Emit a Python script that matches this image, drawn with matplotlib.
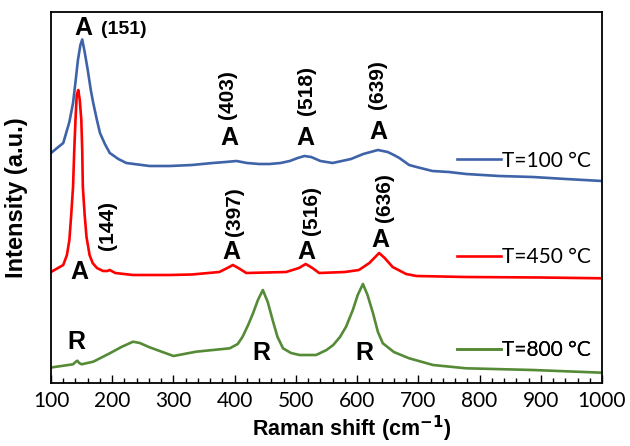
import matplotlib
matplotlib.use('Agg')
import matplotlib.pyplot as plt
from matplotlib.ticker import MultipleLocator

# Raman spectra (shift in cm-1, intensity in a.u.)
shift_100 = [100, 120, 130, 136, 140, 144, 148, 151, 155, 160, 165, 169, 175, 180, 188, 196, 210, 223,
             261, 294, 330, 364, 385, 403, 420, 440, 457, 475, 490, 503, 514, 525, 540, 560, 575, 590,
             610, 622, 634, 642, 650, 660, 669, 685, 697, 723, 750, 778, 832, 887, 941, 1000]
int_100 = [247, 257, 278, 297, 318, 340, 355, 360.5, 348, 330, 310, 297, 280, 267, 256, 247, 241, 237,
           234, 234, 235, 237, 238, 239, 237, 236, 236, 237, 239, 242, 244, 243, 239, 237, 239, 241,
           246, 248, 250, 249, 248, 245, 242, 235, 233, 229, 228, 226, 224, 223, 221, 219]

shift_450 = [100, 120, 126, 130, 133, 136, 138, 140, 142, 144.5, 147, 149.5, 151, 152, 155, 158, 163,
             168, 175, 185, 192, 196, 205, 234, 294, 330, 375, 388, 397, 406, 419, 484, 505, 516,
             527, 538, 580, 603, 620, 628, 636, 645, 658, 680, 697, 778, 900, 1000]
int_450 = [128, 135, 145, 160, 185, 213, 250, 280, 305, 310, 300, 280, 250, 213, 185, 163, 145,
           137, 132, 129, 129, 130, 127, 125, 125, 125.5, 128, 132, 135, 132, 127, 128, 132, 136,
           132, 127, 128, 130, 137, 142, 147, 142, 133, 126, 124, 123, 122.5, 121.7]

shift_800 = [100, 136, 140, 143, 146, 150, 169, 196, 215, 234, 245, 261, 300, 337, 392, 405, 413, 422,
             430, 438, 446, 454, 462, 470, 479, 492, 506, 533, 550, 561, 572, 582, 593, 601, 609.5,
             617, 626, 634, 642, 660, 685, 724, 778, 887, 1000]
int_800 = [32.5, 35.7, 38, 39.3, 37, 35.7, 38.3, 46.7, 53, 58.3, 57, 52.7, 44, 48.3, 51.7, 56, 63.3, 75,
           86.7, 100, 110, 98, 80, 63, 51.7, 47, 45, 45, 50, 55, 63, 73.3, 90, 105, 116,
           105, 86.7, 68, 56.7, 48, 41.7, 35, 31.7, 30, 27.3]

series_labels = ['T=100 °C', 'T=450 °C', 'T=800 °C']
series_colors = ['#3E63A8', '#FF0000', '#558A36']

# peak labels: (text, shift, intensity, rotation, fontsize)
peak_labels = [
    ('A', 153, 372.5, 0, 18), ('(151)', 219, 370.5, 0, 14),
    ('A', 391.5, 262.5, 0, 18), ('(403)', 388, 305, 90, 15),
    ('A', 515, 262.5, 0, 18), ('(518)', 517.5, 310, 90, 15),
    ('A', 634, 268.3, 0, 18), ('(639)', 633, 315, 90, 15),
    ('A', 145.7, 128.3, 0, 18), ('(144)', 192.5, 175, 90, 15),
    ('A', 394, 148.3, 0, 18), ('(397)', 399.7, 188.3, 90, 15),
    ('A', 516.6, 148.3, 0, 18), ('(516)', 524.8, 190, 90, 15),
    ('A', 637.4, 160, 0, 18), ('(636)', 644.4, 202, 90, 15),
    ('R', 141.4, 58.3, 0, 18), ('R', 443.2, 46.7, 0, 18),
    ('R', 611.7, 46.7, 0, 18),
]

fig = plt.figure(figsize=(6.3, 4.46), dpi=100)
ax = fig.add_axes([51 / 630, 1 - 383 / 446, 551 / 630, 371 / 446])

lines = []
for xs, ys, lab, col in zip([shift_100, shift_450, shift_800], [int_100, int_450, int_800],
                            series_labels, series_colors):
    ln, = ax.plot(xs, ys, color=col, lw=1.9, label=lab)
    lines.append(ln)

for txt, x, y, rot, fs in peak_labels:
    ax.text(x, y, txt, rotation=rot, fontsize=fs, fontweight='bold', family='Liberation Sans',
            ha='center', va='center')

ax.set_xlim(100, 1000)
ax.set_ylim(17, 388)
ax.xaxis.set_major_locator(MultipleLocator(100))
ax.xaxis.set_minor_locator(MultipleLocator(20))
ax.tick_params(axis='x', which='major', direction='in', length=6, width=1, labelsize=15, pad=6)
ax.tick_params(axis='x', which='minor', direction='in', length=3.5, width=1)
ax.tick_params(axis='y', left=False, labelleft=False)
for lab in ax.get_xticklabels():
    lab.set_family('Lato')
for s in ax.spines.values():
    s.set_linewidth(1.3)

ax.set_xlabel('Raman shift (cm$^{\\mathbf{-1}}$)', fontsize=15.5, fontweight='bold',
              family='Liberation Sans')
ax.xaxis.set_label_coords(0.545, -0.125)
ax.xaxis.label.set_va('center')
ax.set_ylabel('Intensity (a.u.)', fontsize=17, fontweight='bold', family='Liberation Sans')
ax.yaxis.set_label_coords(-0.062, 0.5)
ax.yaxis.label.set_va('center')

# one legend entry next to each curve
for ln, yfrac in zip(lines, [0.599, 0.340, 0.089]):
    leg = ax.legend(handles=[ln], loc='center left', bbox_to_anchor=(0.737, yfrac), frameon=False,
                    borderpad=0, borderaxespad=0, handlelength=2.1, handletextpad=0.05,
                    prop={'family': 'Lato', 'size': 15})
    ax.add_artist(leg)

fig.savefig('out.png', dpi=100)
